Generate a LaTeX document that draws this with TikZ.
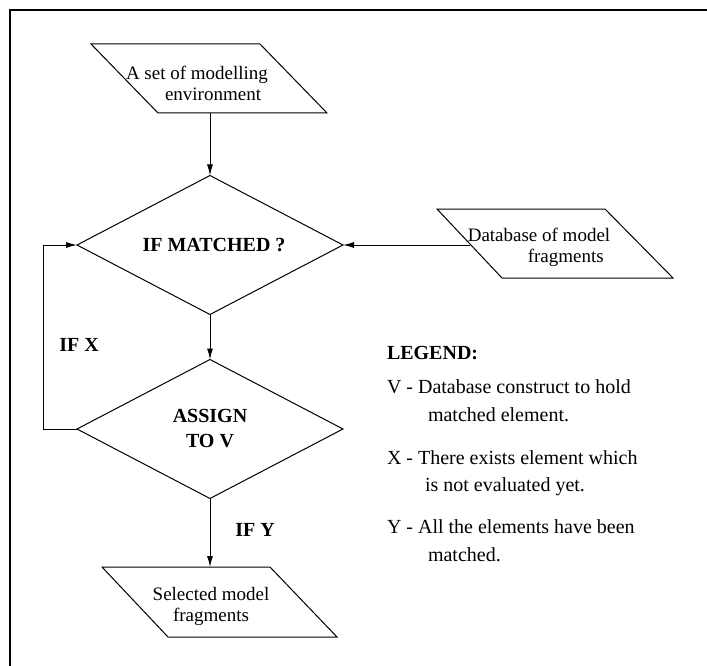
\documentclass[tikz,border=0pt]{standalone}
\usepackage{fontspec}
\setmainfont{Liberation Serif}
\usetikzlibrary{shapes.geometric,arrows.meta}
\begin{document}
\begin{tikzpicture}[x=1pt,y=-1pt,
  line width=1pt,
  every node/.style={font=\fontsize{19}{21}\selectfont, inner sep=0pt, outer sep=0pt},
  dec/.style={diamond, draw, aspect=1.9, minimum width=266pt, minimum height=139pt, align=center, font=\fontsize{20}{25}\selectfont\bfseries},
  arr/.style={-{Latex[length=11pt,width=6pt]}},
  lbl/.style={font=\fontsize{20}{24}\selectfont\bfseries},
  leg/.style={anchor=base west, font=\fontsize{20}{22}\selectfont}]
\useasboundingbox (0,0) rectangle (707,666);
% frame
\draw[line width=1.3pt] (10,666) -- (10,10) -- (707,10);
% top parallelogram
\draw (91,44) -- (260,44) -- (327,113) -- (158,113) -- cycle;
\node[align=left] (env) at (197,83) {A set of modelling\\\hspace*{39pt}environment};
\coordinate (envb) at (210,113);
% database parallelogram
\draw (437,209) -- (605,209) -- (673,278) -- (502,278) -- cycle;
\node[align=left] (db) at (539,247) {Database of model\\\hspace*{60pt}fragments};
\coordinate (dbl) at (470,245);
% diamonds
\node[dec] (m) at (210,245) {\hspace*{8pt}IF MATCHED ?};
\node[dec] (a) at (210,429) {ASSIGN\\TO V};
% bottom parallelogram
\draw (102,567) -- (270,567) -- (337,637) -- (168,637) -- cycle;
\node[align=center] (sel) at (211,606) {Selected model\\fragments};
\coordinate (selt) at (210,567);
% connectors
\draw[arr] (envb) -- (m.north);
\draw[arr] (m.south) -- (a.north);
\draw[arr] (dbl) -- (m.east);
\draw[arr] (a.west) -- ++(-34,0) |- (m.west);
\draw[arr] (a.south) -- (selt);
% labels
\node[lbl] (ifx) at (79,345) {IF X};
\node[lbl] (ify) at (255,530) {IF Y};
% legend
\node[leg, font=\fontsize{20}{24}\selectfont\bfseries] (lg) at (387,359) {LEGEND:};
\node[leg] (lv1) at (387,393) {V - Database construct to hold};
\node[leg] (lv2) at (428,421) {matched element.};
\node[leg] (lx1) at (387,464) {X - There exists element which};
\node[leg] (lx2) at (425,491) {is not evaluated yet.};
\node[leg] (ly1) at (387,533) {Y - All the elements have been};
\node[leg] (ly2) at (428,561) {matched.};
\end{tikzpicture}
\end{document}
